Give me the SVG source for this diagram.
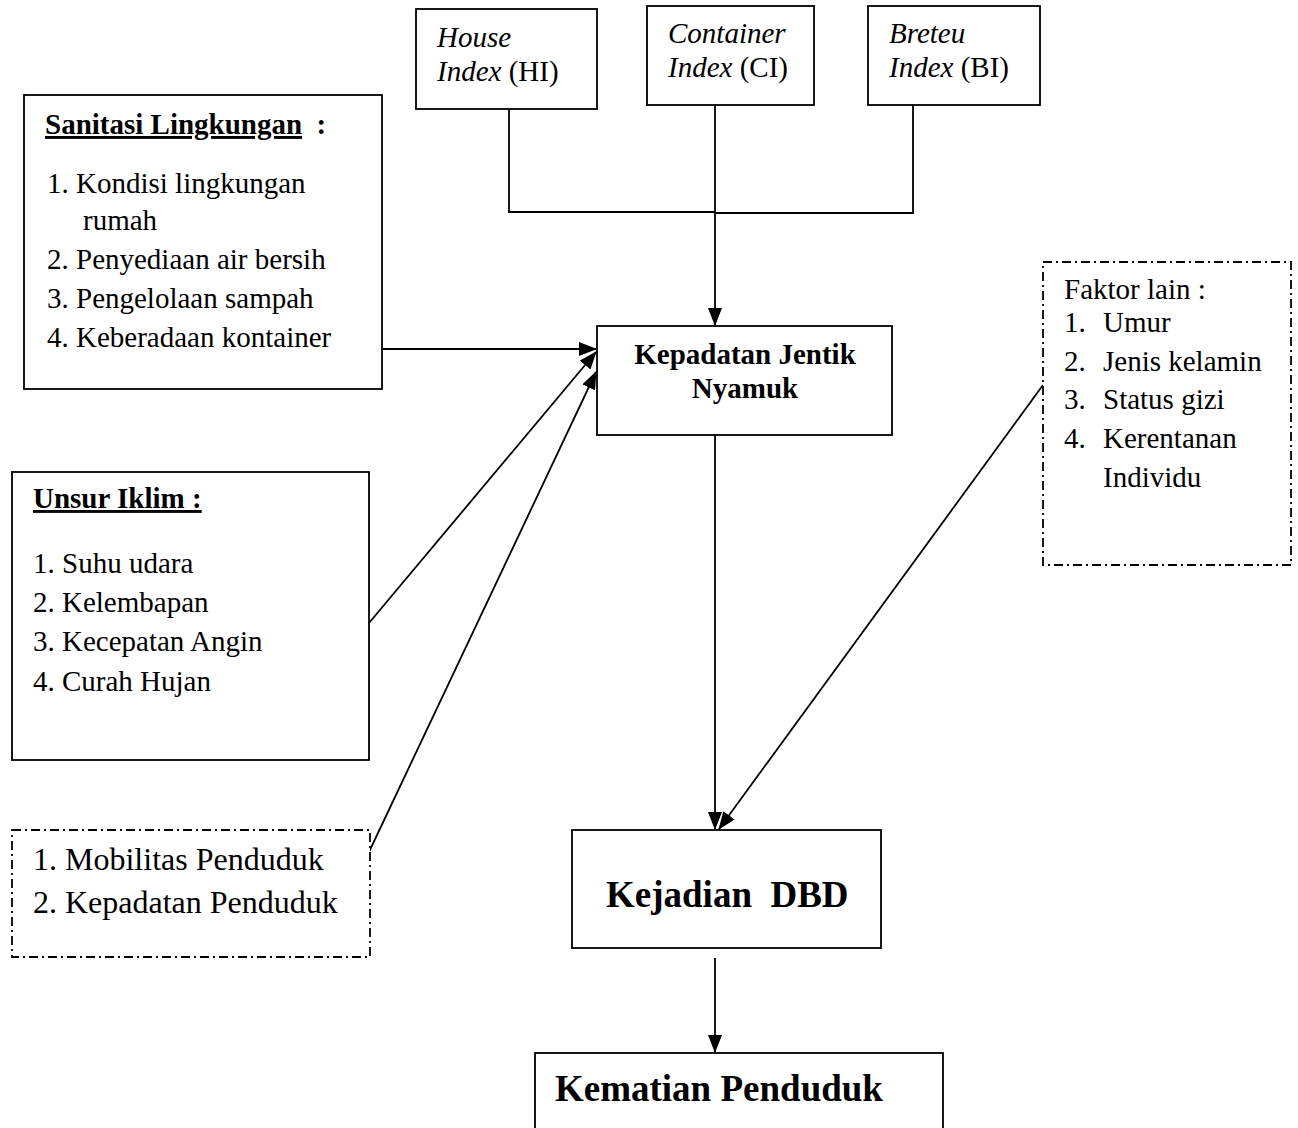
<svg xmlns="http://www.w3.org/2000/svg" width="1298" height="1128" viewBox="0 0 1298 1128">
<defs>
<marker id="ah" markerUnits="userSpaceOnUse" markerWidth="18" markerHeight="14" refX="17" refY="7" orient="auto">
<path d="M0,0 L18,7 L0,14 Z" fill="#000"/>
</marker>
</defs>
<style>
.box{fill:#fff;stroke:#000;stroke-width:1.8}
.dash{fill:#fff;stroke:#000;stroke-width:1.8;stroke-dasharray:9 4 2 4}
.t{font-family:"Liberation Serif","Times New Roman",serif;font-size:29px;fill:#000}
.b{font-weight:bold}
.i{font-style:italic}
.u{text-decoration:underline}
.c{text-anchor:middle}
.conn{fill:none;stroke:#000;stroke-width:1.8}
</style>
<rect width="1298" height="1128" fill="#fff"/>

<g id="connectors">
<polyline class="conn" points="509,109 509,212 715,212"/>
<polyline class="conn" points="913,105 913,213 715,213"/>
<line class="conn" x1="715" y1="105" x2="715" y2="325" marker-end="url(#ah)"/>
<line class="conn" x1="382" y1="349" x2="596" y2="349" marker-end="url(#ah)"/>
<line class="conn" x1="369" y1="623" x2="596" y2="352" marker-end="url(#ah)"/>
<line class="conn" x1="369" y1="852" x2="596" y2="372" marker-end="url(#ah)"/>
<line class="conn" x1="715" y1="435" x2="715" y2="829" marker-end="url(#ah)"/>
<line class="conn" x1="1043" y1="385" x2="719" y2="829" marker-end="url(#ah)"/>
<line class="conn" x1="715" y1="958" x2="715" y2="1052" marker-end="url(#ah)"/>
</g>

<g id="house-index">
<rect class="box" x="416" y="9" width="181" height="100"/>
<text class="t i" x="437" y="47">House</text>
<text class="t" x="437" y="81"><tspan class="i">Index</tspan> (HI)</text>
</g>

<g id="container-index">
<rect class="box" x="647" y="6" width="167" height="99"/>
<text class="t i" x="668" y="43">Container</text>
<text class="t" x="668" y="77"><tspan class="i">Index</tspan> (CI)</text>
</g>

<g id="breteu-index">
<rect class="box" x="868" y="6" width="172" height="99"/>
<text class="t i" x="889" y="43">Breteu</text>
<text class="t" x="889" y="77"><tspan class="i">Index</tspan> (BI)</text>
</g>

<g id="sanitasi">
<rect class="box" x="24" y="95" width="358" height="294"/>
<text class="t b" x="45" y="134" xml:space="preserve"><tspan class="u">Sanitasi Lingkungan</tspan>  :</text>
<text class="t" x="47" y="193">1. Kondisi lingkungan</text>
<text class="t" x="83" y="230">rumah</text>
<text class="t" x="47" y="269">2. Penyediaan air bersih</text>
<text class="t" x="47" y="308">3. Pengelolaan sampah</text>
<text class="t" x="47" y="347">4. Keberadaan kontainer</text>
</g>

<g id="kepadatan-jentik">
<rect class="box" x="597" y="326" width="295" height="109"/>
<text class="t b c" x="745" y="364">Kepadatan Jentik</text>
<text class="t b c" x="745" y="398">Nyamuk</text>
</g>

<g id="faktor-lain">
<rect class="dash" x="1043" y="262" width="248" height="303"/>
<text class="t" x="1064" y="299">Faktor lain :</text>
<text class="t" x="1064" y="332">1.</text><text class="t" x="1103" y="332">Umur</text>
<text class="t" x="1064" y="371">2.</text><text class="t" x="1103" y="371">Jenis kelamin</text>
<text class="t" x="1064" y="409">3.</text><text class="t" x="1103" y="409">Status gizi</text>
<text class="t" x="1064" y="448">4.</text><text class="t" x="1103" y="448">Kerentanan</text>
<text class="t" x="1103" y="487">Individu</text>
</g>

<g id="unsur-iklim">
<rect class="box" x="12" y="472" width="357" height="288"/>
<text class="t b" x="33" y="508"><tspan class="u">Unsur Iklim :</tspan></text>
<text class="t" x="33" y="573">1. Suhu udara</text>
<text class="t" x="33" y="612">2. Kelembapan</text>
<text class="t" x="33" y="651">3. Kecepatan Angin</text>
<text class="t" x="33" y="691">4. Curah Hujan</text>
</g>

<g id="penduduk">
<rect class="dash" x="12" y="830" width="358" height="127"/>
<text class="t" x="33" y="870" style="font-size:32px">1. Mobilitas Penduduk</text>
<text class="t" x="33" y="913" style="font-size:32px">2. Kepadatan Penduduk</text>
</g>

<g id="kejadian-dbd">
<rect class="box" x="572" y="830" width="309" height="118"/>
<text class="t b" x="606" y="907" style="font-size:37px" xml:space="preserve">Kejadian  DBD</text>
</g>

<g id="kematian">
<rect class="box" x="535" y="1053" width="408" height="100"/>
<text class="t b" x="555" y="1101" style="font-size:37px">Kematian Penduduk</text>
</g>
</svg>
